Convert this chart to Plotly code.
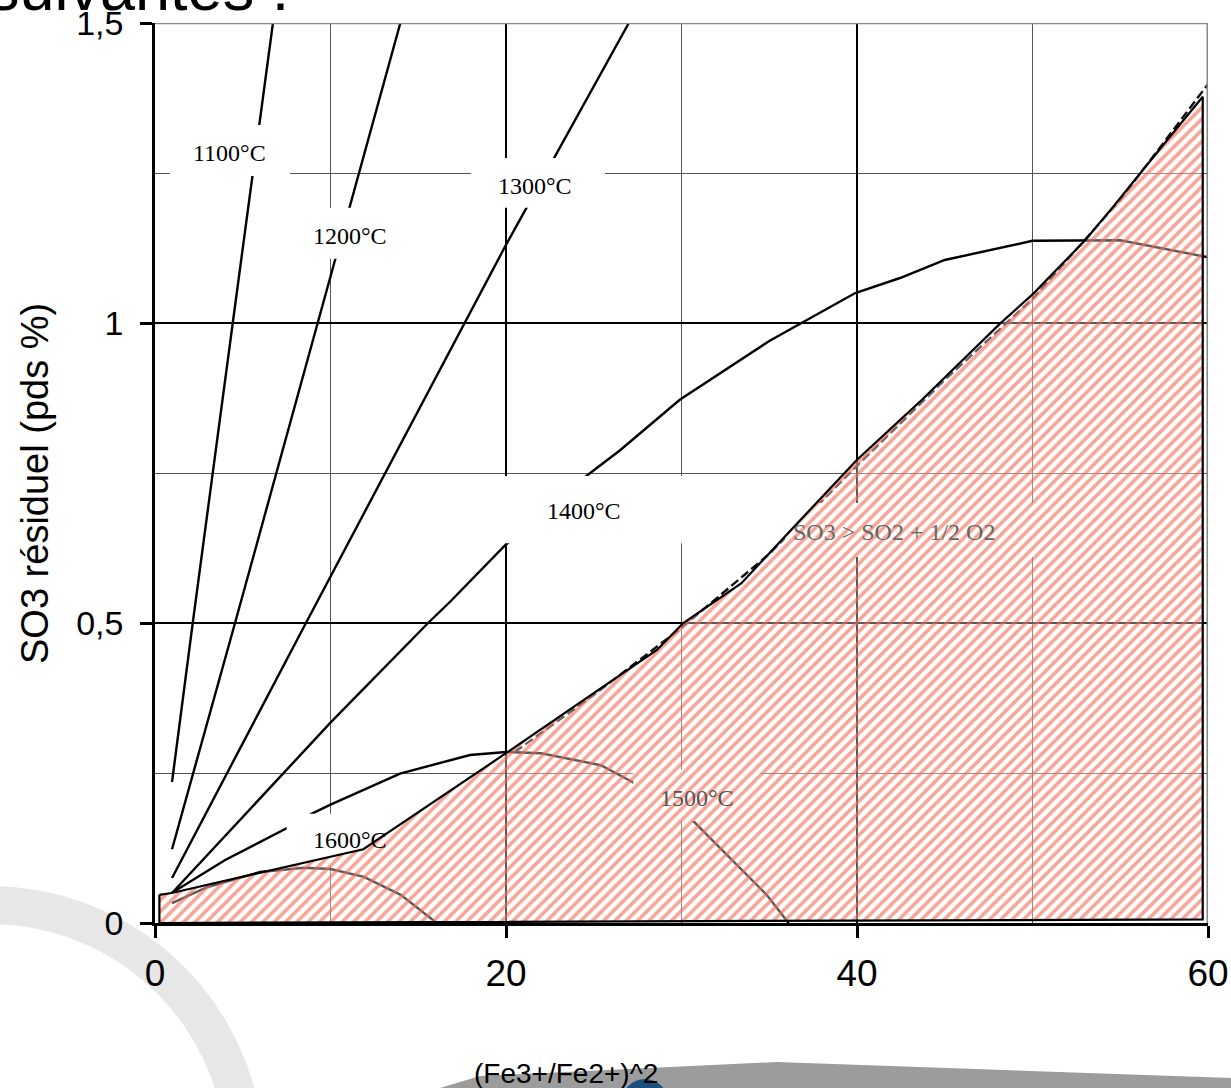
import math
import plotly.graph_objects as go

# ---- data: residual SO3 (wt %) versus (Fe3+/Fe2+)^2 ----
x_1100 = [0.97, 2.15, 4.43, 6.72]
y_1100 = [0.235, 0.50, 1.00, 1.50]

x_1200 = [0.97, 4.56, 9.27, 13.98]
y_1200 = [0.123, 0.50, 1.00, 1.50]

x_1300 = [0.97, 8.60, 19.94, 27.0]
y_1300 = [0.075, 0.50, 1.127, 1.50]

x_1400 = [0.97, 9.97, 15.56, 16.8, 19.97, 24.67, 26.5, 29.9, 35.0, 39.9, 42.45, 45.0, 50.0, 53.0, 55.0, 60.1]
y_1400 = [0.05, 0.333, 0.50, 0.535, 0.63, 0.747, 0.788, 0.872, 0.97, 1.05, 1.075, 1.105, 1.137, 1.138, 1.138, 1.109]

x_1500 = [0.95, 4.0, 7.5, 8.92, 9.97, 13.96, 17.95, 20.0, 22.0, 25.4, 27.2, 30.6, 34.85, 36.1]
y_1500 = [0.05, 0.105, 0.158, 0.182, 0.197, 0.249, 0.28, 0.285, 0.283, 0.263, 0.235, 0.172, 0.047, 0.0]

x_1600 = [0.97, 3.0, 6.0, 8.5, 10.0, 11.9, 14.0, 16.05]
y_1600 = [0.033, 0.06, 0.085, 0.092, 0.09, 0.077, 0.047, 0.0]

# equilibrium SO3 = SO2 + 1/2 O2
x_eq = [20.5, 25.0, 30.0, 35.0, 40.0, 45.0, 50.0, 55.0, 60.1]
y_eq = [0.285, 0.380, 0.492, 0.615, 0.762, 0.905, 1.040, 1.205, 1.402]

# upper limit of the SO3-stable field (hatched)
x_lim = [0.25, 0.95, 11.87, 20.0, 25.0, 28.6, 30.1, 33.4, 36.4, 40.0, 43.7, 48.15, 50.05, 53.0, 54.6, 56.1, 57.2, 59.7]
y_lim = [0.047, 0.05, 0.123, 0.283, 0.383, 0.455, 0.50, 0.566, 0.66, 0.772, 0.872, 0.999, 1.049, 1.138, 1.194, 1.249, 1.288, 1.377]
x_floor = [59.7, 0.25]
y_floor = [0.006, 0.0]

x_ticks = [0, 20, 40, 60]
y_ticks = [0, 0.5, 1.0, 1.5]

# isotherm labels: text, x, y, colour
labels = [
    ("1100°C", 4.27, 1.283, "#000000"),
    ("1200°C", 11.1, 1.145, "#000000"),
    ("1300°C", 21.65, 1.229, "#000000"),
    ("1400°C", 24.44, 0.687, "#000000"),
    ("1500°C", 30.86, 0.209, "#555555"),
    ("1600°C", 11.11, 0.138, "#000000"),
    ("SO3 > SO2 + 1/2 O2", 42.1, 0.652, "#666666"),
]
# white panels behind the labels (x0, x1, y0, y1)
label_boxes = [
    (0.85, 7.70, 1.245, 1.330),
    (8.30, 13.90, 1.107, 1.192),
    (18.0, 25.64, 1.192, 1.275),
    (17.5, 30.80, 0.633, 0.745),
    (27.25, 34.5, 0.170, 0.255),
    (7.50, 13.60, 0.095, 0.182),
    (35.9, 50.70, 0.610, 0.700),
]

# ---- page geometry ----
W, H = 1231, 1088
ML, MR, MT, MB = 155, 23, 23, 165
PW, PH = W - ML - MR, H - MT - MB


def pp(xpx, ypx):
    """pixel position on the page -> paper coordinates"""
    return (xpx - ML) / PW, (H - MB - ypx) / PH


SANS = "Liberation Sans, Arial, sans-serif"
SERIF = "Liberation Serif, Times New Roman, serif"

fig = go.Figure()

curve_style = dict(mode="lines", line=dict(color="#000000", width=2.4), hoverinfo="skip", showlegend=False)
for xs, ys in [(x_1100, y_1100), (x_1200, y_1200), (x_1300, y_1300),
               (x_1400, y_1400), (x_1500, y_1500), (x_1600, y_1600)]:
    fig.add_trace(go.Scatter(x=xs, y=ys, **curve_style))

fig.add_trace(go.Scatter(x=x_eq, y=y_eq, mode="lines",
                         line=dict(color="#111111", width=2.4, dash="9px,4px"),
                         hoverinfo="skip", showlegend=False))

for x0, x1, y0, y1 in label_boxes:
    fig.add_trace(go.Scatter(x=[x0, x1, x1, x0, x0], y=[y0, y0, y1, y1, y0],
                             mode="lines", fill="toself", fillcolor="#ffffff",
                             line=dict(width=0, color="rgba(0,0,0,0)"),
                             hoverinfo="skip", showlegend=False))

poly_x = x_lim + x_floor + [x_lim[0]]
poly_y = y_lim + y_floor + [y_lim[0]]
fig.add_trace(go.Scatter(
    x=poly_x, y=poly_y, mode="lines", fill="toself",
    fillcolor="rgba(255,255,255,0.35)",
    fillpattern=dict(shape="/", fgcolor="#ef6a52", fgopacity=0.6,
                     bgcolor="rgba(255,255,255,0.35)", size=8, solidity=0.45),
    line=dict(width=0, color="rgba(0,0,0,0)"),
    hoverinfo="skip", showlegend=False))
fig.add_trace(go.Scatter(x=poly_x, y=poly_y, mode="lines",
                         line=dict(color="#000000", width=2.2),
                         hoverinfo="skip", showlegend=False))

for text, lx, ly, col in labels:
    fig.add_annotation(x=lx, y=ly, text=text, showarrow=False,
                       font=dict(family=SERIF, size=24, color=col))

# axis titles and slide text
tx, ty = pp(35, 484)
fig.add_annotation(xref="paper", yref="paper", x=tx, y=ty, text="SO3 résiduel (pds %)",
                   textangle=-90, xanchor="center", yanchor="middle", showarrow=False,
                   font=dict(family=SANS, size=38, color="#000000"))
tx, ty = pp(566, 1073)
fig.add_annotation(xref="paper", yref="paper", x=tx, y=ty, text="(Fe3+/Fe2+)^2",
                   xanchor="center", yanchor="middle", showarrow=False,
                   font=dict(family=SANS, size=28, color="#000000"))
tx, ty = pp(-14, 25)
fig.add_annotation(xref="paper", yref="paper", x=tx, y=ty, text="suivantes :",
                   xanchor="left", yanchor="bottom", showarrow=False,
                   font=dict(family=SANS, size=63, color="#000000"))

# slide decoration behind the chart
shapes = []
# light ring sweeping across the lower-left corner
cx, cy, r = -10, 1160, 255
ring = [pp(cx + r * math.cos(math.radians(a)), cy - r * math.sin(math.radians(a)))
        for a in range(105, 10, -5)]
shapes.append(dict(type="path", xref="paper", yref="paper", layer="below",
                   path="M " + " L ".join(f"{p[0]},{p[1]}" for p in ring),
                   line=dict(color="rgba(170,170,170,0.28)", width=38)))
pts = [pp(400, 1100), pp(480, 1076), pp(777, 1062), pp(1231, 1078), pp(1240, 1100)]
shapes.append(dict(type="path", xref="paper", yref="paper", layer="below",
                   path="M " + " L ".join(f"{p[0]},{p[1]}" for p in pts) + " Z",
                   fillcolor="#9c9c9c", line=dict(width=0)))
c0 = pp(622, 1079); c1 = pp(668, 1125)
shapes.append(dict(type="circle", xref="paper", yref="paper", layer="below",
                   x0=c0[0], y0=c1[1], x1=c1[0], y1=c0[1], fillcolor="#1d4f7c", line=dict(width=0)))
# frame: grey top and right borders
shapes.append(dict(type="line", xref="x", yref="y", x0=0, x1=60, y0=1.5, y1=1.5,
                   line=dict(color="#888888", width=2.5), layer="above"))
shapes.append(dict(type="line", xref="x", yref="y", x0=60, x1=60, y0=0, y1=1.5,
                   line=dict(color="#888888", width=3), layer="above"))

fig.update_layout(
    width=W, height=H,
    margin=dict(l=ML, r=MR, t=MT, b=MB, pad=0, autoexpand=False),
    paper_bgcolor="#ffffff", plot_bgcolor="rgba(0,0,0,0)",
    separators=", ",
    shapes=shapes,
    showlegend=False,
)
axis_common = dict(ticks="outside", ticklen=12, tickwidth=2.5, tickcolor="#000000",
                   showline=True, linecolor="#000000", linewidth=2.5,
                   showgrid=True, gridcolor="#000000", gridwidth=2,
                   zeroline=False, fixedrange=True, automargin=False)
fig.update_xaxes(range=[0, 60], tickvals=x_ticks, ticklabelstandoff=4,
                 minor=dict(dtick=10, showgrid=True, gridcolor="#555555", gridwidth=1, ticks=""),
                 tickfont=dict(family=SANS, size=37, color="#000000"), **axis_common)
fig.update_yaxes(range=[0, 1.5], tickvals=y_ticks, ticklabelstandoff=10,
                 minor=dict(dtick=0.25, showgrid=True, gridcolor="#555555", gridwidth=1, ticks=""),
                 tickfont=dict(family=SANS, size=34, color="#000000"), **axis_common)

fig.write_html("out.html")
